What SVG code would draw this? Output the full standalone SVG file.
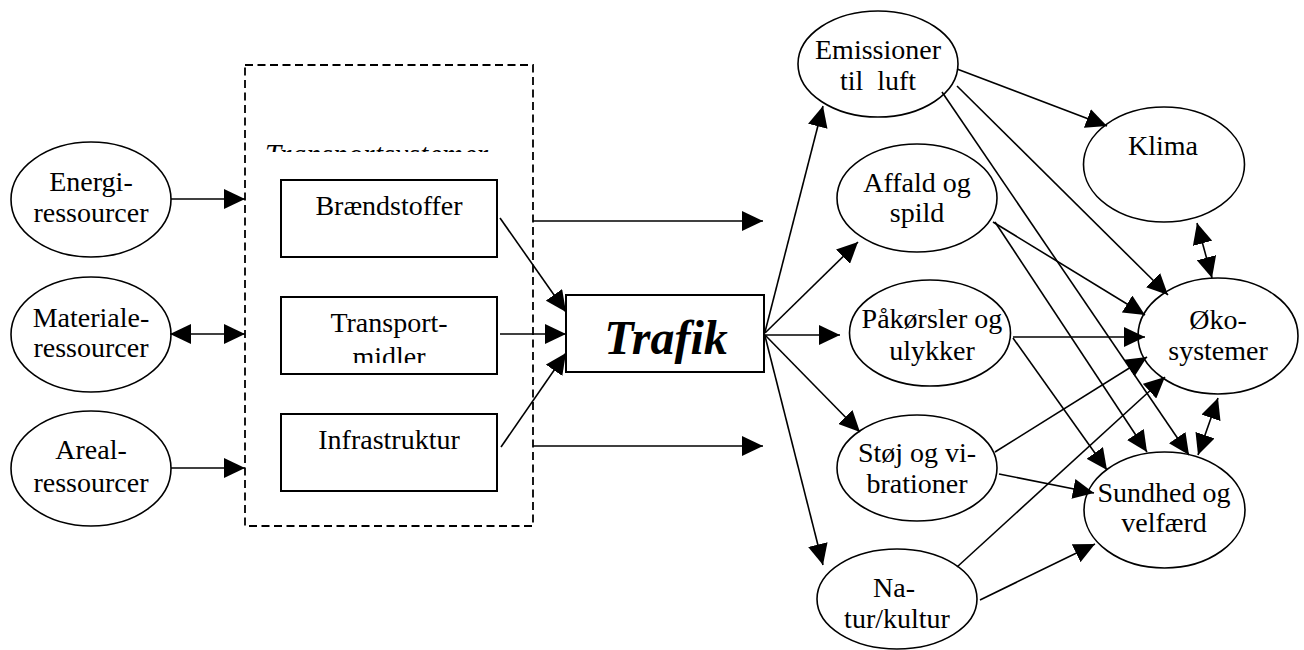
<svg xmlns="http://www.w3.org/2000/svg" width="1304" height="650" viewBox="0 0 1304 650">
<style>
text{font-family:"Liberation Serif","Times New Roman",serif;font-size:28px;fill:#000;text-anchor:middle}
.n ellipse{fill:#fff;stroke:#000;stroke-width:1.6}
.n rect{fill:#fff;stroke:#000;stroke-width:2}
.c line{stroke:#000;stroke-width:1.6;fill:none;marker-end:url(#ah)}
.c line.d{marker-start:url(#ah)}
</style>
<defs>
<marker id="ah" markerUnits="userSpaceOnUse" markerWidth="22" markerHeight="20" refX="21" refY="10" orient="auto-start-reverse" viewBox="0 0 22 20">
<path d="M0,0 L21,10 L0,20 z" fill="#000"/>
</marker>
<clipPath id="clipTS"><rect x="245" y="60" width="288" height="92"/></clipPath>
<clipPath id="clipTM"><rect x="281" y="297" width="216" height="66"/></clipPath>
</defs>
<rect width="1304" height="650" fill="#fff"/>

<g id="transportsystemer">
<rect x="245" y="65" width="288" height="461" fill="none" stroke="#000" stroke-width="1.8" stroke-dasharray="8 4.5"/>
<text x="265" y="164" style="text-anchor:start;font-style:italic;font-size:29px" textLength="223" clip-path="url(#clipTS)">Transportsystemer</text>
</g>

<g id="energi" class="n"><ellipse cx="91" cy="199.5" rx="80" ry="57.5"/><text x="91" y="191">Energi-</text><text x="91" y="222">ressourcer</text></g>
<g id="materiale" class="n"><ellipse cx="91" cy="334.5" rx="80" ry="57.5"/><text x="91" y="327">Materiale-</text><text x="91" y="357">ressourcer</text></g>
<g id="areal" class="n"><ellipse cx="91" cy="468.5" rx="80" ry="57.5"/><text x="91" y="459">Areal-</text><text x="91" y="492">ressourcer</text></g>

<g id="braendstoffer" class="n"><rect x="281" y="180" width="216" height="77"/><text x="389" y="215">Brændstoffer</text></g>
<g id="transportmidler" class="n"><rect x="281" y="297" width="216" height="77"/><g clip-path="url(#clipTM)"><text x="389" y="332">Transport-</text><text x="389" y="366">midler</text></g></g>
<g id="infrastruktur" class="n"><rect x="281" y="414" width="216" height="77"/><text x="389" y="449">Infrastruktur</text></g>

<g id="trafik" class="n"><rect x="566" y="295" width="198" height="77"/><text x="666" y="354" style="font-size:48px;font-weight:bold;font-style:italic">Trafik</text></g>

<g id="emissioner" class="n"><ellipse cx="878" cy="64" rx="80" ry="53"/><text x="878" y="59">Emissioner</text><text x="878" y="90" style="white-space:pre">til  luft</text></g>
<g id="affald" class="n"><ellipse cx="917" cy="198" rx="80" ry="54"/><text x="917" y="192">Affald og</text><text x="917" y="222">spild</text></g>
<g id="paakoersler" class="n"><ellipse cx="930" cy="333" rx="80.5" ry="53"/><text x="932" y="328">Påkørsler og</text><text x="932" y="360">ulykker</text></g>
<g id="stoej" class="n"><ellipse cx="917" cy="468" rx="80" ry="53"/><text x="917" y="462">Støj og vi-</text><text x="917" y="493">brationer</text></g>
<g id="natur" class="n"><ellipse cx="897" cy="599" rx="80" ry="50"/><text x="894" y="597">Na-</text><text x="897" y="628">tur/kultur</text></g>

<g id="klima" class="n"><ellipse cx="1164" cy="164.5" rx="80.5" ry="57.5"/><text x="1163" y="155">Klima</text></g>
<g id="oekosystemer" class="n"><ellipse cx="1218" cy="336" rx="80" ry="58"/><text x="1218" y="329">Øko-</text><text x="1218" y="360">systemer</text></g>
<g id="sundhed" class="n"><ellipse cx="1164.5" cy="510" rx="80.5" ry="58"/><text x="1164" y="502">Sundhed og</text><text x="1164" y="532">velfærd</text></g>

<g id="connectors" class="c">
<line x1="171" y1="199" x2="245" y2="199"/>
<line class="d" x1="170" y1="334" x2="245" y2="334"/>
<line x1="171" y1="468" x2="245" y2="468"/>
<line x1="533" y1="221" x2="763" y2="221"/>
<line x1="533" y1="446" x2="763" y2="446"/>
<line x1="500" y1="218" x2="566" y2="312"/>
<line x1="500" y1="334" x2="566" y2="334"/>
<line x1="501" y1="447" x2="566" y2="353"/>
<line x1="765" y1="332" x2="823" y2="106"/>
<line x1="765" y1="333" x2="858" y2="242"/>
<line x1="765" y1="335" x2="840" y2="335"/>
<line x1="765" y1="335" x2="860" y2="432"/>
<line x1="765" y1="336" x2="823" y2="565"/>
<line x1="957" y1="69" x2="1107" y2="126"/>
<line x1="957" y1="86" x2="1168" y2="295"/>
<line x1="942" y1="92" x2="1189" y2="455"/>
<line x1="993" y1="222" x2="1145" y2="315"/>
<line x1="995" y1="222" x2="1147" y2="452"/>
<line x1="1013" y1="337" x2="1145" y2="337"/>
<line x1="1013" y1="338" x2="1107" y2="470"/>
<line x1="995" y1="452" x2="1147" y2="357"/>
<line x1="999" y1="474" x2="1094" y2="493"/>
<line x1="957" y1="567" x2="1165" y2="377"/>
<line x1="980" y1="600" x2="1095" y2="544"/>
<line class="d" x1="1197" y1="223" x2="1212" y2="278"/>
<line class="d" x1="1218" y1="398" x2="1198" y2="455"/>
</g>
</svg>
